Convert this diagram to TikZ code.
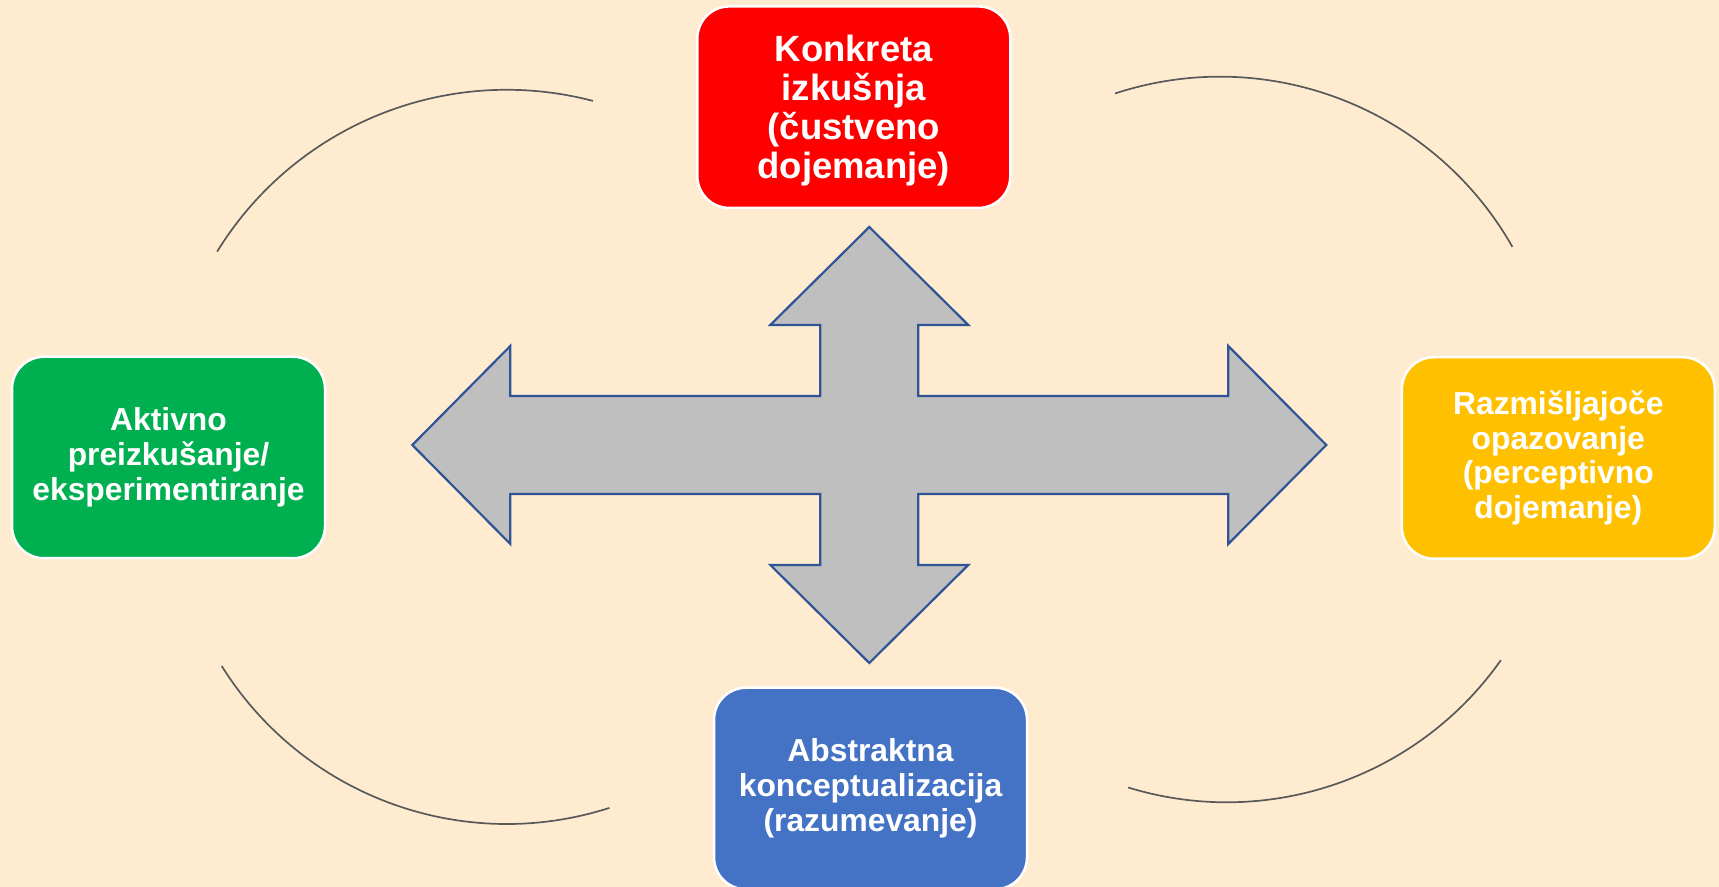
\documentclass[tikz,border=0pt]{standalone}
\usepackage{fontspec}
\setmainfont{Liberation Sans}
\definecolor{bgcol}{RGB}{255,236,208}
\definecolor{redbox}{RGB}{255,0,0}
\definecolor{greenbox}{RGB}{0,176,80}
\definecolor{yellowbox}{RGB}{255,192,0}
\definecolor{bluebox}{RGB}{68,114,196}
\definecolor{arrowfill}{RGB}{191,191,191}
\definecolor{arrowline}{RGB}{47,85,151}
\definecolor{arcline}{RGB}{89,89,89}
\tikzset{
  stagebox/.style={draw=white, line width=1.25pt, rounded corners=16pt,
    minimum width=156.5pt, minimum height=100.75pt, inner sep=0pt,
    align=center, text=white, font=\bfseries\fontsize{15.9pt}{17.4pt}\selectfont},
  bigtext/.style={font=\bfseries\fontsize{18.25pt}{19.5pt}\selectfont},
  quadarrow/.style={draw=arrowline, fill=arrowfill, line width=1.1pt, line join=miter},
  cyclearc/.style={draw=arcline, line width=0.85pt}
}
\begin{document}
\begin{tikzpicture}[x=0.5pt,y=0.5pt]
\useasboundingbox (0,0) rectangle (1719,887);
\fill[bgcol] (0,0) rectangle (1719,887);

% cycle arcs
\draw[cyclearc] (506.7,457.2) ++(148.4:340) arc[start angle=148.4, end angle=75.3, radius=170pt];
\draw[cyclearc] (1220,474) ++(108.2:336.3) arc[start angle=108.2, end angle=29.6, radius=168.15pt];
\draw[cyclearc] (506.7,399) ++(212:336) arc[start angle=212, end angle=287.8, radius=168pt];
\draw[cyclearc] (1226.7,420.2) ++(324.8:335.5) arc[start angle=324.8, end angle=252.9, radius=167.75pt];

% quad arrow
\begin{scope}[shift={(869.3,442)}]
\draw[quadarrow] (457,0) -- (359,99) -- (359,49) -- (49,49) -- (49,120) -- (99,120)
  -- (0,218) -- (-99,120) -- (-49,120) -- (-49,49) -- (-359,49) -- (-359,99)
  -- (-457,0) -- (-359,-99) -- (-359,-49) -- (-49,-49) -- (-49,-120) -- (-99,-120)
  -- (0,-218) -- (99,-120) -- (49,-120) -- (49,-49) -- (359,-49) -- (359,-99) -- cycle;
\end{scope}

% stage boxes
\node[stagebox, fill=redbox, bigtext] (konkretna) at (853.8,779.8)
  {\rule{0pt}{17pt}Konkreta\\izkušnja\\(čustveno\\dojemanje)};
\node[stagebox, fill=greenbox] (aktivno) at (168.5,429.5)
  {Aktivno\\preizkušanje/\\eksperimentiranje};
\node[stagebox, fill=yellowbox] (razmisljajoce) at (1558.3,429)
  {Razmišljajoče\\opazovanje\\(perceptivno\\dojemanje)};
\node[stagebox, fill=bluebox] (abstraktna) at (870.5,98.5)
  {Abstraktna\\konceptualizacija\\(razumevanje)};
\end{tikzpicture}
\end{document}
